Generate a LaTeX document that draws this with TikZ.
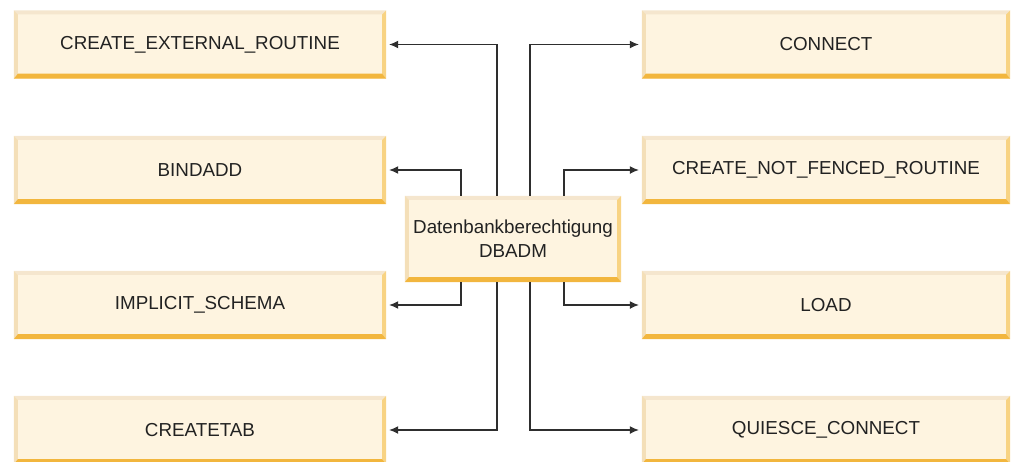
\documentclass[tikz,border=0pt]{standalone}
\usepackage{fontspec}
\setmainfont{Liberation Sans}
\usetikzlibrary{arrows.meta}
\definecolor{boxfill}{HTML}{FEF4E0}
\definecolor{bevtop}{HTML}{F5E6CE}
\definecolor{bevleft}{HTML}{F4DFB8}
\definecolor{bevright}{HTML}{F8D383}
\definecolor{bevbottom}{HTML}{F2B63E}
\definecolor{linecol}{HTML}{2E2E2E}
\definecolor{txt}{HTML}{222222}
\tikzset{
  permbox/.style={fill=boxfill, inner sep=0pt, minimum height=68pt,
    text=txt, font=\fontsize{18.8}{24}\selectfont, align=center},
  leftbox/.style={permbox, minimum width=372pt},
  rightbox/.style={permbox, minimum width=368pt},
  conn/.style={draw=linecol, line width=1.1pt, -{Latex[length=9pt,width=8pt]}, shorten >=3pt},
}
% bevelled frame around a named box
\newcommand\bevelframe[1]{%
  \fill[bevtop] (#1.north west) -- (#1.north east) -- ([xshift=-4pt,yshift=-4pt]#1.north east) -- ([xshift=4pt,yshift=-4pt]#1.north west) -- cycle;
  \fill[bevleft] (#1.north west) -- ([xshift=4pt,yshift=-4pt]#1.north west) -- ([xshift=4pt,yshift=5pt]#1.south west) -- (#1.south west) -- cycle;
  \fill[bevright] (#1.north east) -- (#1.south east) -- ([xshift=-4pt,yshift=5pt]#1.south east) -- ([xshift=-4pt,yshift=-4pt]#1.north east) -- cycle;
  \fill[bevbottom] (#1.south west) -- (#1.south east) -- ([xshift=-4pt,yshift=5pt]#1.south east) -- ([xshift=4pt,yshift=5pt]#1.south west) -- cycle;
}
\begin{document}
\begin{tikzpicture}[x=1pt,y=-1pt]
\useasboundingbox (0,0) rectangle (1011,461);

% left column
\node[leftbox] (ext)  at (200,44.5) {CREATE\_EXTERNAL\_ROUTINE};
\node[leftbox] (bind) at (200,170)  {BINDADD};
\node[leftbox] (impl) at (200,305)  {IMPLICIT\_SCHEMA};
\node[leftbox] (tab)  at (200,430)  {CREATETAB};

% right column
\node[rightbox] (conn) at (826,44.5) {CONNECT};
\node[rightbox] (nfr)  at (826,170)  {CREATE\_NOT\_FENCED\_ROUTINE};
\node[rightbox] (load) at (826,305)  {LOAD};
\node[rightbox] (qc)   at (826,430)  {QUIESCE\_CONNECT};

% central authority
\node[permbox, minimum width=216pt, minimum height=86pt] (db) at (513,239)
  {Datenbankberechtigung\\DBADM};

\foreach \n in {ext,bind,impl,tab,conn,nfr,load,qc,db} {\bevelframe{\n}}

% connectors
\draw[conn] ([xshift=-16pt]db.north) |- (ext.east);
\draw[conn] ([xshift=-52pt]db.north) |- (bind.east);
\draw[conn] ([xshift=-52pt]db.south) |- (impl.east);
\draw[conn] ([xshift=-16pt]db.south) |- (tab.east);
\draw[conn] ([xshift=17pt]db.north) |- (conn.west);
\draw[conn] ([xshift=51pt]db.north) |- (nfr.west);
\draw[conn] ([xshift=51pt]db.south) |- (load.west);
\draw[conn] ([xshift=17pt]db.south) |- (qc.west);
\end{tikzpicture}
\end{document}
